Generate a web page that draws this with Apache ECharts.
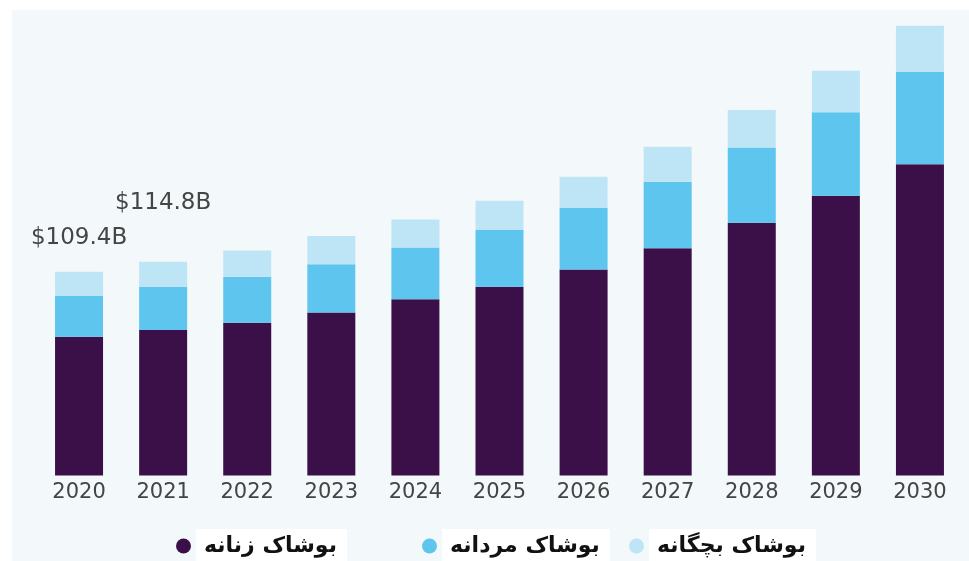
<!DOCTYPE html>
<html>
<head>
<meta charset="utf-8">
<script src="https://cdn.jsdelivr.net/npm/echarts@6/dist/echarts.min.js"></script>
<style>
  html, body { margin: 0; padding: 0; background: #ffffff; }
  #chart { width: 969px; height: 561px; }
</style>
</head>
<body>
<div id="chart"></div>
<script>
// Market size by clothing segment, billions of USD
const years = ['2020', '2021', '2022', '2023', '2024', '2025', '2026', '2027', '2028', '2029', '2030'];
const women = [74.5, 78.1, 82.1, 87.6, 94.6, 101.4, 110.7, 122.0, 135.8, 150.3, 167.1];
const men = [22.0, 23.3, 24.7, 25.8, 27.9, 30.4, 33.1, 35.8, 40.3, 44.8, 49.7];
const kids = [12.9, 13.4, 14.0, 15.2, 15.0, 15.7, 16.6, 18.8, 20.2, 22.3, 24.7];

const names = ['بوشاک زنانه', 'بوشاک مردانه', 'بوشاک بچگانه'];
const colors = ['#3b1048', '#5ec5ef', '#bee5f6'];

// Totals shown above the first two bars, with their label distances
const labelledYears = { 0: 22, 1: 47 };

const total = i => women[i] + men[i] + kids[i];

const kidsData = kids.map((v, i) => {
  if (labelledYears[i] === undefined) return v;
  return {
    value: v,
    label: {
      show: true,
      position: 'top',
      distance: labelledYears[i],
      formatter: () => '$' + total(i).toFixed(1) + 'B',
      color: '#454545',
      fontSize: 23,
      fontFamily: 'DejaVu Sans'
    }
  };
});

const legendText = {
  color: '#111111',
  fontSize: 22,
  fontWeight: 'bold',
  fontFamily: 'DejaVu Sans',
  backgroundColor: '#ffffff',
  padding: [7, 10, 5, 8]
};

function legendAt(name, left) {
  return {
    data: [name],
    left: left,
    top: 524,
    icon: 'circle',
    itemWidth: 15,
    itemHeight: 15,
    itemGap: 0,
    itemTextGap: 5,
    textStyle: legendText,
    selectedMode: false
  };
}

const chart = echarts.init(document.getElementById('chart'), null, { renderer: 'canvas' });
chart.setOption({
  backgroundColor: '#ffffff',
  animation: false,
  graphic: [{
    type: 'rect',
    left: 12,
    top: 10,
    z: -10,
    shape: { width: 957, height: 551 },
    style: { fill: '#f3f8fb' }
  }],
  grid: { left: 37, top: 10, width: 925, bottom: 85.5, containLabel: false },
  xAxis: {
    type: 'category',
    data: years,
    axisLine: { show: false },
    axisTick: { show: false },
    axisLabel: { color: '#444444', fontSize: 21, fontFamily: 'DejaVu Sans', margin: 7 }
  },
  yAxis: {
    type: 'value',
    min: 0,
    max: 250,
    show: false,
    splitLine: { show: false }
  },
  legend: [
    legendAt(names[0], 171),
    legendAt(names[1], 417),
    legendAt(names[2], 624)
  ],
  series: [
    { name: names[0], type: 'bar', stack: 'total', barWidth: 48, data: women, itemStyle: { color: colors[0] } },
    { name: names[1], type: 'bar', stack: 'total', barWidth: 48, data: men, itemStyle: { color: colors[1] } },
    { name: names[2], type: 'bar', stack: 'total', barWidth: 48, data: kidsData, itemStyle: { color: colors[2] } }
  ]
});
</script>
</body>
</html>
